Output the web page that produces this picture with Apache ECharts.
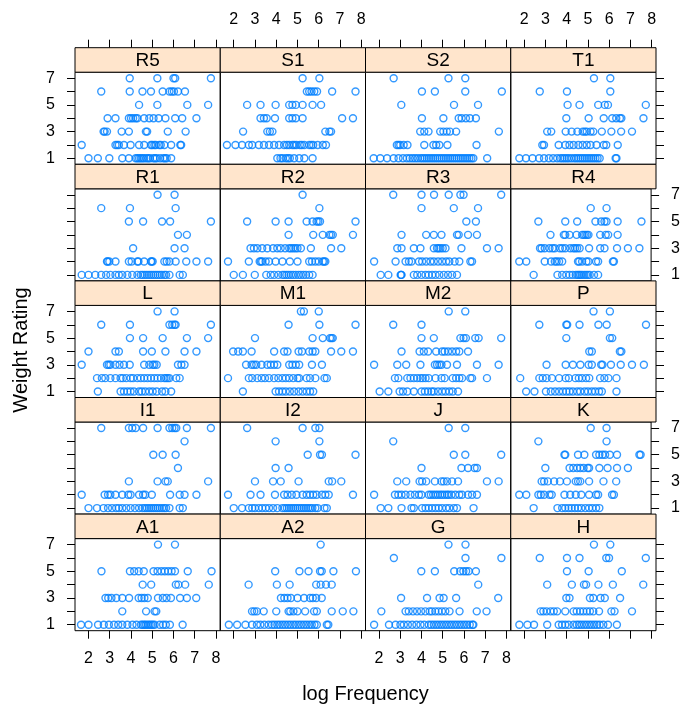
<!DOCTYPE html>
<html><head><meta charset="utf-8">
<script src="https://cdn.jsdelivr.net/npm/echarts@6/dist/echarts.min.js"></script>
<style>html,body{margin:0;padding:0;background:#fff}#c{width:683px;height:704px}</style>
</head><body><div id="c"></div>
<script>
// Panel order, top row to bottom row, left to right
const panelNames = ['R5','S1','S2','T1','R1','R2','R3','R4','L','M1','M2','P','I1','I2','J','K','A1','A2','G','H'];
const xTicks = [2,3,4,5,6,7,8];
const yTicks = [1,2,3,4,5,6,7];
const yTickLabels = [1,3,5,7];
const xTitle = 'log Frequency';
const yTitle = 'Weight Rating';

// Each panel: log Frequency values listed for Weight Rating 1..7
const R5 = [
 [2.00,2.44,2.98,3.59,3.90,4.22,4.30,4.38,4.46,4.54,4.62,4.73,4.81,4.89,5.05,5.13,5.21,5.37,5.52,5.60,5.68,5.89],
 [1.68,3.27,3.35,3.43,3.67,3.98,4.38,4.62,4.94,5.00,5.10,5.17,5.33,5.40,5.57,5.89,6.32,6.36],
 [2.71,2.76,2.87,3.56,3.90,4.70,4.76,5.73,6.57],
 [2.90,3.27,3.90,4.00,4.10,4.22,4.30,4.62,4.86,5.06,5.30,5.62,6.08,6.41,7.08],
 [4.38,5.24,6.65,7.63],
 [2.60,3.94,4.54,4.94,5.49,5.81,5.92,6.02,6.21,6.54],
 [3.94,5.24,6.00,6.08,7.76]];
const S1 = [
 [4.05,4.20,4.30,4.45,4.55,4.64,4.84,5.08,5.32,5.71],
 [1.68,2.08,2.39,2.71,2.87,3.18,3.42,3.66,3.90,4.13,4.37,4.50,4.61,4.76,4.85,4.95,5.11,5.20,5.32,5.55,5.65,5.74,5.95,6.19,6.34],
 [2.44,3.58,3.70,3.82,6.31,6.50,6.58],
 [3.26,3.42,3.55,3.94,4.61,4.76,4.92,5.24,7.10,7.61],
 [2.63,3.26,3.97,4.61,4.76,4.92,5.24,5.71,6.11],
 [5.44,5.55,5.66,5.79,5.92,6.63,7.73],
 [5.24,6.03]];
const S2 = [
 [1.75,2.06,2.38,2.69,2.92,3.13,3.31,3.45,3.58,3.70,3.82,3.95,4.05,4.15,4.25,4.35,4.45,4.55,4.65,4.75,4.85,4.95,5.05,5.15,5.25,5.35,5.45,5.55,5.65,5.75,5.85,5.95,6.05,6.15,6.25,6.35,6.44,7.09],
 [2.84,2.92,3.00,3.16,3.34,4.13,4.56,4.69,4.84,5.22,6.59],
 [3.94,4.13,4.33,4.88,5.03,5.19,5.34,5.63,7.64],
 [4.02,5.03,5.75,5.89,6.09,6.28,6.56],
 [3.05,5.53,6.66],
 [4.02,4.63,6.06,7.78],
 [2.69,5.27,6.06]];
const T1 = [
 [1.77,2.08,2.39,2.70,2.93,3.16,3.36,3.55,3.70,3.80,3.90,4.00,4.10,4.22,4.35,4.45,4.55,4.65,4.75,4.85,4.95,5.05,5.15,5.25,5.35,5.45,5.55,6.30,6.34],
 [2.85,2.93,3.62,3.93,4.13,4.32,4.55,4.75,4.94,5.12,5.40,5.74,5.86,6.40],
 [3.08,3.27,3.95,4.23,4.50,4.75,4.85,4.94,5.12,5.25,5.65,6.10,6.56,7.07],
 [3.98,5.03,5.74,6.14,6.33,6.50,6.57,7.61],
 [4.04,4.60,5.48,5.79,5.94,7.72],
 [2.73,4.01,6.05],
 [5.28,6.05]];
const R1 = [
 [1.68,2.00,2.32,2.60,2.83,3.03,3.27,3.43,3.59,3.83,4.06,4.30,4.46,4.55,4.65,4.75,4.85,4.95,5.05,5.15,5.25,5.35,5.45,5.57,5.65,5.81,6.29,6.44],
 [2.87,2.90,2.98,3.27,3.90,4.03,4.30,4.35,4.62,4.94,4.97,5.02,5.57,5.68,5.81,6.10,6.60,7.08,7.63],
 [4.10,6.05,6.52],
 [6.21,6.63],
 [3.90,4.57,5.46,5.84,7.76],
 [2.60,3.95,6.10],
 [5.25,6.05]];
const R2 = [
 [2.00,2.43,2.99,3.53,3.74,3.90,4.10,4.29,4.38,4.48,4.58,4.69,4.80,4.92,5.05,5.16,5.28,5.40,5.55,5.71],
 [1.73,2.71,3.22,3.28,3.34,3.50,3.66,3.97,4.29,4.64,5.00,5.55,5.68,5.84,6.00,6.19,6.25,6.31],
 [2.79,2.95,3.11,3.34,3.58,3.85,4.05,4.21,4.42,4.61,4.70,4.80,4.90,5.00,5.16,5.63,6.58,7.06],
 [4.58,5.74,6.19,6.50,6.58,6.66,7.61],
 [2.63,3.97,4.58,5.43,5.71,5.90,5.98,6.06,7.73],
 [6.03],
 [5.24]];
const R3 = [
 [2.08,2.44,3.02,3.04,3.06,3.64,3.80,4.00,4.19,4.34,4.50,4.66,4.84,5.05,5.25,5.44,5.67],
 [1.77,2.78,3.25,3.41,3.53,3.88,4.03,4.22,4.42,4.58,4.78,4.97,5.16,5.31,5.56,5.78,6.30,6.38],
 [2.86,3.06,3.64,3.95,4.58,4.73,4.80,4.89,5.00,5.13,5.88,7.08,7.63],
 [3.06,4.22,4.58,4.94,5.67,5.75,6.19,6.61],
 [6.11,6.56],
 [4.00,5.52,6.66],
 [2.67,4.00,4.59,5.28,5.83,5.98,7.75]];
const R4 = [
 [2.48,3.64,3.87,4.07,4.23,4.38,4.53,4.62,4.69,4.76,4.84,4.94,5.03,5.12,5.21,5.42,5.62],
 [1.78,2.12,3.02,3.33,3.51,3.60,3.72,3.87,4.64,4.70,4.84,5.05,5.15,5.52,5.62,6.34,6.39],
 [2.79,2.87,3.02,3.25,3.40,3.51,3.76,3.88,4.02,4.26,4.41,4.50,4.60,4.72,5.18,5.72,5.93,6.54,7.07,7.63],
 [3.30,3.95,4.02,4.23,4.57,4.84,4.92,5.00,5.08,5.15,5.72,5.99,6.11,6.57],
 [2.71,4.02,4.60,5.49,5.77,5.93,6.03,6.57,7.73],
 [5.26,6.03],
 []];
const L = [
 [2.44,3.51,3.67,3.83,3.98,4.14,4.38,4.51,4.67,4.86,5.02,5.21,5.46,5.62,5.89],
 [2.40,2.63,2.79,3.03,3.27,3.51,3.62,3.78,3.98,4.10,4.30,4.46,4.62,4.78,4.94,5.10,5.25,5.41,5.57,5.65,5.73,5.81,6.13,6.29],
 [1.68,2.87,2.95,3.03,3.27,3.46,3.67,3.94,4.62,4.86,5.02,5.10,5.21,6.21,6.37,6.52],
 [2.00,3.27,3.43,4.57,4.98,5.62,6.52,7.08],
 [3.95,4.57,5.49,6.63,7.63],
 [2.60,3.95,5.81,5.94,6.05,6.10,7.76],
 [5.25,6.05]];
const M1 = [
 [2.43,3.97,4.13,4.29,4.45,4.64,4.84,5.05,5.24,5.43,5.59,5.74],
 [1.73,2.71,2.87,3.11,3.31,3.47,3.66,3.90,4.10,4.29,4.45,4.61,4.80,5.00,5.08,5.43,5.59,5.84,6.27,6.38],
 [2.58,2.84,2.95,3.06,3.31,3.58,3.74,3.90,4.05,4.61,4.76,4.92,5.08,5.68,6.15],
 [1.97,2.21,2.43,2.84,3.90,4.37,4.53,5.05,5.21,5.55,5.71,5.84,6.58,7.06,7.61],
 [3.00,5.71,6.19,6.53,6.60,6.66],
 [4.58,6.03,7.73],
 [5.16,5.30,6.00]];
const M2 = [
 [2.03,2.44,2.97,3.13,3.33,3.64,4.00,4.16,4.31,4.47,4.58,4.78,4.97,5.13,5.31,5.47,5.72],
 [2.75,2.91,3.33,3.48,3.64,3.80,3.95,4.06,4.19,4.34,4.66,4.94,5.09,5.47,5.63,5.78,5.91,6.30,6.38,7.08],
 [1.77,2.86,3.28,3.95,4.63,4.73,4.84,4.94,5.20,5.67,6.61,7.63],
 [3.06,3.91,4.11,4.31,4.69,4.97,5.09,5.25,5.44,5.63,5.78,6.19],
 [4.00,4.58,5.83,5.98,6.09,6.53,6.69,7.75],
 [2.67,4.00],
 [5.28,6.06]];
const P = [
 [2.09,2.48,3.02,3.25,3.45,3.64,3.82,3.98,4.13,4.29,4.49,4.64,4.84,5.00,5.18,5.34,5.52,5.65,6.34],
 [1.81,2.71,2.87,3.05,3.30,3.64,3.95,4.10,4.41,4.57,4.72,4.91,5.06,5.57,5.77,5.96,6.34],
 [3.05,3.95,4.29,4.64,5.03,5.18,5.62,5.68,6.08,6.54,7.07,7.63],
 [5.06,5.18,6.50,6.57],
 [3.98,6.03,6.14],
 [2.71,3.98,4.02,4.60,5.49,5.88,7.73],
 [5.26,6.03]];
const I1 = [
 [2.00,2.40,2.71,2.92,3.11,3.30,3.43,3.59,3.78,3.98,4.19,4.38,4.54,4.65,4.75,4.85,4.95,5.05,5.15,5.25,5.35,5.46,5.56,5.65,5.81,6.29,6.44],
 [1.68,2.76,2.92,3.03,3.27,3.59,3.87,3.98,4.38,4.57,4.67,4.98,5.84,6.29,6.52,7.08],
 [3.90,5.25,5.62,5.73,7.63],
 [6.21],
 [5.05,5.49,6.10],
 [6.52],
 [2.60,3.90,4.06,4.22,4.57,5.25,5.81,5.94,6.05,6.13,6.63,7.76]];
const I2 = [
 [2.00,2.39,2.71,2.87,3.00,3.18,3.34,3.50,3.66,3.85,4.05,4.29,4.40,4.50,4.60,4.70,4.80,4.90,5.00,5.10,5.20,5.30,5.40,5.50,5.60,5.70,5.84,5.95,6.27,6.38],
 [1.73,2.79,3.26,3.94,4.37,4.53,4.73,4.95,5.24,5.43,5.59,5.74,5.90,6.15,6.31,6.47,7.61],
 [3.00,3.85,4.21,5.05,6.47,6.63,7.06],
 [3.97,4.58],
 [5.48,6.06,6.15,7.73],
 [3.97,6.03],
 [2.63,5.24,5.84,6.03]];
const J = [
 [2.08,2.44,3.06,3.53,3.64,4.03,4.19,4.34,4.50,4.66,4.81,4.97,5.16,5.31,5.52,5.67,6.45],
 [1.77,2.75,2.91,3.06,3.25,3.48,3.69,3.88,4.00,4.34,4.44,4.55,4.66,4.77,4.88,4.98,5.09,5.20,5.28,5.41,5.59,5.78,5.91,6.19,6.38,6.61],
 [2.86,3.28,3.91,4.03,4.22,4.63,4.94,5.05,5.20,5.44,5.72,7.08,7.63],
 [4.00,5.88,6.19,6.50,6.61],
 [5.52,6.06,7.75],
 [2.67],
 [5.28,6.06]];
const K = [
 [2.48,3.64,3.87,4.02,4.18,4.33,4.49,4.64,4.80,5.00,5.18,5.34,5.52,5.68],
 [1.78,2.12,2.71,2.83,2.99,3.25,3.36,3.98,4.26,4.53,4.80,5.18,5.52,5.62,6.30,6.39],
 [2.87,2.99,3.17,3.48,3.76,4.10,4.53,4.64,4.75,5.18,5.88,6.50],
 [3.05,4.23,4.41,4.60,4.75,4.91,5.11,5.18,5.68,6.08,6.54,7.07],
 [3.98,4.02,4.64,4.95,5.52,5.68,5.83,5.96,6.19,6.54,7.63,7.69],
 [2.71,6.03],
 [5.26,6.03]];
const A1 = [
 [1.65,2.00,2.45,2.72,2.96,3.20,3.40,3.59,3.83,4.07,4.26,4.47,4.55,4.63,4.70,4.79,4.87,4.95,5.03,5.11,5.35,5.51,5.64,5.83,6.43],
 [3.59,4.71,5.11,5.19],
 [2.80,2.93,3.08,3.31,3.59,3.91,4.36,4.50,4.63,4.79,5.27,5.50,5.67,5.88,6.31,6.63,7.07],
 [4.55,4.95,6.11,6.23,6.55,7.66],
 [2.61,3.95,4.15,4.36,4.60,5.06,5.25,5.43,5.59,5.75,5.91,6.07,6.67,7.79],
 [],
 [5.27,6.07]];
const A2 = [
 [1.77,2.16,2.55,2.86,3.09,3.25,3.44,3.64,3.80,3.92,4.05,4.17,4.30,4.42,4.55,4.67,4.80,4.92,5.05,5.17,5.30,5.42,5.55,5.67,5.80,5.91,6.38,6.45],
 [2.86,2.97,3.09,3.41,4.00,4.58,4.66,4.81,5.00,5.36,5.78,5.91,6.61,7.13,7.63],
 [4.22,4.38,4.53,4.69,5.00,5.31,5.59,5.72,5.88,6.14],
 [2.70,4.03,4.63,5.88,6.09,6.34,6.61],
 [3.95,5.09,5.52,6.06,6.14,6.69,7.75],
 [],
 [6.09]];
const G = [
 [1.77,2.47,2.78,3.01,3.17,3.36,3.56,3.76,3.95,4.13,4.34,4.46,4.58,4.70,4.82,4.94,5.06,5.18,5.30,5.42,5.54,5.66,5.78,5.90,6.02,6.14,6.27,6.40,6.44],
 [2.11,3.25,3.40,3.60,3.79,3.98,4.18,4.38,4.49,4.65,4.80,4.96,5.12,5.32,5.79,6.60,7.06],
 [3.04,4.26,4.85,5.04,5.63,7.61],
 [6.67],
 [3.99,4.63,5.54,5.82,5.97,6.10,6.22,6.56],
 [2.70,6.07,7.76],
 [5.27,6.07]];
const H = [
 [1.77,2.15,2.46,3.08,3.62,3.78,3.93,4.09,4.32,4.47,4.58,4.70,4.82,4.94,5.06,5.18,5.30,5.42,5.55,5.72,5.94,6.36],
 [2.77,2.90,3.05,3.24,3.39,3.55,3.93,4.32,4.47,4.63,4.78,4.94,5.09,5.25,5.52,6.10,6.25,7.07],
 [3.98,4.13,5.09,5.25,5.59,5.79,6.51],
 [3.08,4.24,4.81,4.91,5.49,6.17,7.60],
 [4.01,5.03,6.59],
 [2.73,4.01,4.60,5.86,5.99,7.72],
 [5.28,6.05]];

const panelData = {R5,S1,S2,T1,R1,R2,R3,R4,L,M1,M2,P,I1,I2,J,K,A1,A2,G,H};

// layout
const NC = 4, NR = 5;
const X0 = 75, Y0 = 47.7, PW = 145.25, RH = 116.6, SH = 24.5, PH = RH - SH;
const XMIN = 1.365, XMAX = 8.2, YMIN = 0.55, YMAX = 7.45;
const FONT = 'Liberation Sans, Arial, sans-serif';

const grids = [], xAxes = [], yAxes = [], series = [], graphics = [];
panelNames.forEach((name, i) => {
  const r = Math.floor(i / NC), c = i % NC;
  const left = X0 + c * PW, stripTop = Y0 + r * RH, top = stripTop + SH;
  grids.push({left: left, top: top, width: PW, height: PH, show: true,
    borderColor: '#000', borderWidth: 1, backgroundColor: 'transparent', containLabel: false});
  const isTop = r === 0, isBottom = r === NR - 1;
  const xLabel = (isTop && c % 2 === 1) || (isBottom && c % 2 === 0);
  // top-row axes sit above the strip
  xAxes.push({type: 'value', gridIndex: i, min: XMIN, max: XMAX,
    position: isTop ? 'top' : 'bottom', show: isTop || isBottom,
    offset: isTop ? SH : 0,
    axisLine: {show: false},
    axisTick: {show: true, inside: false, length: 8, customValues: xTicks, lineStyle: {color: '#000', width: 1}},
    axisLabel: {show: xLabel, customValues: xTicks, margin: 20, fontSize: 16, color: '#000', fontFamily: FONT},
    splitLine: {show: false}});
  const isLeft = c === 0, isRight = c === NC - 1;
  const yLabel = (isLeft && r % 2 === 0) || (isRight && r % 2 === 1);
  yAxes.push({type: 'value', gridIndex: i, min: YMIN, max: YMAX,
    position: isLeft ? 'left' : 'right', show: isLeft || isRight,
    axisLine: {show: false},
    axisTick: {show: true, inside: false, length: 8, customValues: yTicks, lineStyle: {color: '#000', width: 1}},
    axisLabel: {show: yLabel, customValues: yTickLabels, margin: 20, fontSize: 16, color: '#000', fontFamily: FONT},
    splitLine: {show: false}});
  const d = [];
  panelData[name].forEach((xs, k) => xs.forEach(x => d.push([x, k + 1])));
  series.push({type: 'scatter', xAxisIndex: i, yAxisIndex: i, data: d,
    symbol: 'circle', symbolSize: 7, silent: true,
    itemStyle: {color: 'rgba(255,255,255,0)', borderColor: '#0080ff', borderWidth: 1.4}});
  graphics.push({type: 'rect', shape: {x: left, y: stripTop, width: PW, height: SH},
    style: {fill: '#ffe5cc', stroke: '#000', lineWidth: 1}, z: 10});
  graphics.push({type: 'text', x: left + PW / 2, y: stripTop + SH / 2 + 1,
    style: {text: name, fill: '#000', font: '19px ' + FONT, textAlign: 'center', textVerticalAlign: 'middle'}, z: 11});
});
graphics.push({type: 'text', x: 365.5, y: 694,
  style: {text: xTitle, fill: '#000', font: '20px ' + FONT, textAlign: 'center', textVerticalAlign: 'middle'}});
graphics.push({type: 'text', x: 21, y: 350, rotation: Math.PI / 2,
  style: {text: yTitle, fill: '#000', font: '20px ' + FONT, textAlign: 'center', textVerticalAlign: 'middle'}});

const chart = echarts.init(document.getElementById('c'), null, {renderer: 'canvas'});
chart.setOption({animation: false, backgroundColor: '#fff',
  grid: grids, xAxis: xAxes, yAxis: yAxes, series: series, graphic: graphics});
</script></body></html>
